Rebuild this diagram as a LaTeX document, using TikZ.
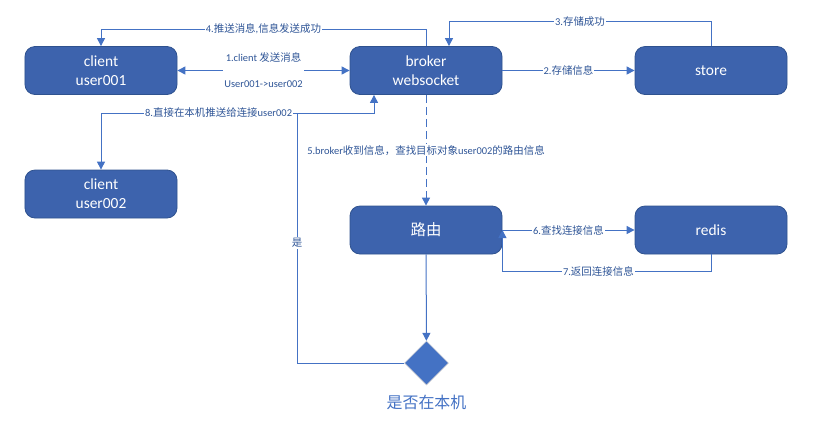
\documentclass[tikz,border=0pt]{standalone}
\usepackage{fontspec}
\setmainfont{Carlito}
\newfontfamily\cjk{Noto Sans CJK SC}
\usetikzlibrary{arrows.meta,shapes.geometric}
\definecolor{boxfill}{HTML}{3D63AD}
\definecolor{boxline}{HTML}{2F528F}
\definecolor{linkline}{HTML}{4472C4}
\definecolor{labeltext}{HTML}{2F5597}
\begin{document}
\begin{tikzpicture}
[x=1bp,y=-1bp,
  boxdecorate/.style={shape=rectangle,rounded corners=10bp,draw=boxline,fill=boxfill,
    line width=0.8bp,minimum width=152bp,minimum height=48bp,inner sep=0pt,
    align=center,text=white,font=\fontsize{15.5}{19}\selectfont},%
  linedecorate/.style={draw=linkline,line width=1bp,-{Triangle[length=8bp,width=8bp]}},%
  labeldecorate/.style={fill=white,inner sep=1bp,text=labeltext,font=\fontsize{10.5}{13}\selectfont}]
\useasboundingbox (0,0) rectangle (821,420);
%% nodes or boxes
\foreach \nodename/\x/\y/\nodetext in {client1/101/70.5/{client\\user001},
  broker/426/70.5/{broker\\websocket}, store/711/70.5/store,
  client2/101/194/{client\\user002}, route/426/230/{\cjk 路由},
  redis/711/230/redis} {
  \node (\nodename) at (\x,\y) [boxdecorate] {\nodetext};
}
\node (decide) at (426.5,363) [shape=diamond,aspect=1,minimum width=44bp,minimum height=44bp,
  inner sep=0pt,fill=linkline,draw=white!80!black,line width=0.5bp] {};
\node (decidetext) at (426.5,402) [text=linkline,font=\cjk\fontsize{16}{19}\selectfont] {是否在本机};
\coordinate (junction) at (297,113);
%% edges or lines
\draw[linedecorate,{Triangle[length=8bp,width=8bp]}-{Triangle[length=8bp,width=8bp]}] (client1) --
  node[labeldecorate,align=center,font=\fontsize{10.5}{26}\selectfont]
  {1.client {\cjk 发送消息}\\User001->user002} (broker);
\path
\foreach \startnode/\endnode/\edgetext in {broker/store/{2.{\cjk 存储信息}},
  route/redis/{6.{\cjk 查找连接信息}}} {
  (\startnode) edge[linedecorate] node[labeldecorate] {\edgetext} (\endnode)
};
\draw[linedecorate] (store.north) -- ++(0,-25) -| node[labeldecorate,pos=0.25] {3.{\cjk 存储成功}}
  ([xshift=23bp]broker.north);
\draw[linedecorate] (broker.north) -- ++(0,-17) -| node[labeldecorate,pos=0.25]
  {4.{\cjk 推送消息},{\cjk 信息发送成功}} (client1.north);
\draw[linedecorate,dash pattern=on 8bp off 4bp] (broker) -- node[labeldecorate]
  {5.broker{\cjk 收到信息，查找目标对象}user002{\cjk 的路由信息}} (route);
\draw[linedecorate] (redis.south) -- ++(0,17) -| node[labeldecorate,pos=0.27] {7.{\cjk 返回连接信息}}
  (route.east);
\draw[linedecorate] (route) -- (decide);
\draw[linedecorate] (decide.west) -| node[labeldecorate,pos=0.74] {\cjk 是} (junction)
  -| ([xshift=-52bp]broker.south);
\draw[linedecorate] (junction) -| node[labeldecorate,pos=0.2] {8.{\cjk 直接在本机推送给连接}user002}
  (client2.north);
\end{tikzpicture}
\end{document}
